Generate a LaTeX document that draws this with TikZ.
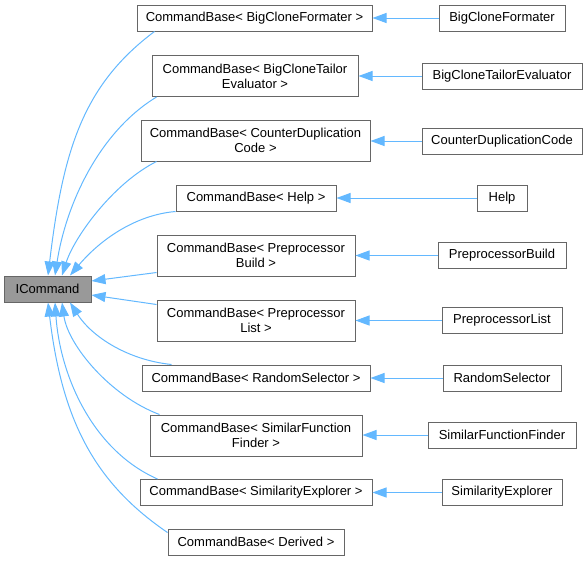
\documentclass[tikz,border=0pt]{standalone}
\usepackage{fontspec}
\setmainfont{Liberation Sans}
\usetikzlibrary{arrows.meta}
\definecolor{edgeblue}{HTML}{63B8FF}
\definecolor{boxgray}{HTML}{666666}
\definecolor{icfill}{HTML}{999999}
\begin{document}
\begin{tikzpicture}[x=1pt,y=-1pt,
  box/.style={draw=boxgray, line width=1pt, fill=white, inner sep=0pt, align=center,
    font=\fontsize{13}{15}\selectfont, minimum height=26pt},
  tall/.style={minimum height=41pt},
  edge/.style={draw=edgeblue, line width=1pt, -{Triangle[length=14pt,width=10pt]}}]
\useasboundingbox (0,0) rectangle (588,560);

\node[box, fill=icfill, minimum width=87pt] (ic) at (47.5,289) {ICommand};

\node[box, minimum width=235pt] (m1) at (254.5,18) {CommandBase< BigCloneFormater >};
\node[box, tall, minimum width=206pt] (m2) at (255,76) {CommandBase< BigCloneTailor\\Evaluator >};
\node[box, tall, minimum width=229pt] (m3) at (255.5,140.5) {CommandBase< CounterDuplication\\Code >};
\node[box, minimum width=160pt] (m4) at (256,198) {CommandBase< Help >};
\node[box, tall, minimum width=198pt] (m5) at (256,255.5) {CommandBase< Preprocessor\\Build >};
\node[box, tall, minimum width=198pt] (m6) at (256,320.5) {CommandBase< Preprocessor\\List >};
\node[box, minimum width=228pt] (m7) at (256,378) {CommandBase< RandomSelector >};
\node[box, tall, minimum width=212pt] (m8) at (256,435.5) {CommandBase< SimilarFunction\\Finder >};
\node[box, minimum width=232pt] (m9) at (256,492.5) {CommandBase< SimilarityExplorer >};
\node[box, minimum width=176pt] (m10) at (256,542) {CommandBase< Derived >};

\node[box, minimum width=126pt] (r1) at (502,18) {BigCloneFormater};
\node[box, minimum width=160pt] (r2) at (502,76) {BigCloneTailorEvaluator};
\node[box, minimum width=160pt] (r3) at (502,141) {CounterDuplicationCode};
\node[box, minimum width=50pt] (r4) at (502,198) {Help};
\node[box, minimum width=128pt] (r5) at (502,255.5) {PreprocessorBuild};
\node[box, minimum width=120pt] (r6) at (502,320.5) {PreprocessorList};
\node[box, minimum width=118pt] (r7) at (502,378) {RandomSelector};
\node[box, minimum width=148pt] (r8) at (502,435) {SimilarFunctionFinder};
\node[box, minimum width=120pt] (r9) at (502,492.5) {SimilarityExplorer};

\foreach \i in {1,...,9}{
  \draw[edge] (r\i.west) -- (m\i.east |- r\i.west);
}

\draw[edge] ([xshift=18pt]m1.south west) .. controls (83,85) and (63,150) .. ([xshift=0.5pt]ic.north);
\draw[edge] ([xshift=5pt]m2.south west) .. controls (97.5,133) and (65.5,207) .. ([xshift=7.5pt]ic.north);
\draw[edge] ([xshift=16pt]m3.south west) .. controls (112,184) and (74,238) .. ([xshift=14.5pt]ic.north);
\draw[edge] (m4.south west) .. controls (135,215) and (100,240) .. ([xshift=22.5pt]ic.north);
\draw[edge] ([yshift=4pt]m5.south west) -- ([yshift=8pt]ic.east);
\draw[edge] ([yshift=-5pt]m6.north west) -- ([yshift=-6pt]ic.east);
\draw[edge] ([xshift=30pt]m7.north west) .. controls (128,360) and (92,337) .. ([xshift=22.5pt]ic.south);
\draw[edge] ([xshift=10pt]m8.north west) .. controls (110,396) and (68,345) .. ([xshift=14.5pt]ic.south);
\draw[edge] ([xshift=18pt]m9.north west) .. controls (92,450) and (60,375) .. ([xshift=7.5pt]ic.south);
\draw[edge] ([yshift=-4pt]m10.north west) .. controls (95,483) and (62,421) .. ([xshift=0.5pt]ic.south);
\end{tikzpicture}
\end{document}
